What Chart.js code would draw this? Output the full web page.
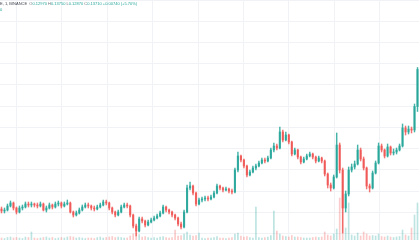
<!DOCTYPE html>
<html>
<head>
<meta charset="utf-8">
<script src="https://cdn.jsdelivr.net/npm/chart.js@4/dist/chart.umd.min.js"></script>
<style>
html,body{margin:0;padding:0;background:#fff;}
#wrap{position:relative;width:419px;height:240px;overflow:hidden;}
#hdr{position:absolute;left:0;top:1px;font-family:"Liberation Sans",Arial,sans-serif;font-size:4px;line-height:5.5px;white-space:nowrap;color:#6a6d78;}
#hdr .v{color:#26a69a;}
#hdr .s{color:#434651;}
</style>
</head>
<body>
<div id="wrap">
<canvas id="c" width="419" height="240"></canvas>
<div id="hdr"><span class="s">E, 1, BINANCE</span>&nbsp; O<span class="v">0.12970</span> H<span class="v">0.13750</span> L<span class="v">0.12870</span> C<span class="v">0.13710</span> <span class="v">+0.00740 (+5.70%)</span><br><span class="v">0</span></div>
</div>
<script>
const opens = [0.1092,0.1088,0.1090,0.1098,0.1104,0.1094,0.1086,0.1094,0.1096,0.1102,
0.1100,0.1102,0.1100,0.1098,0.1102,0.1090,0.1094,0.1100,0.1096,0.1102,
0.1104,0.1098,0.1102,0.1104,0.1086,0.1080,0.1084,0.1090,0.1096,0.1100,
0.1098,0.1094,0.1092,0.1096,0.1100,0.1106,0.1104,0.1094,0.1086,0.1080,
0.1086,0.1096,0.1100,0.1098,0.1080,0.1058,0.1048,0.1072,0.1068,0.1060,
0.1066,0.1070,0.1074,0.1078,0.1084,0.1096,0.1090,0.1086,0.1080,0.1074,
0.1062,0.1056,0.1086,0.1134,0.1138,0.1124,0.1102,0.1110,0.1112,0.1114,
0.1112,0.1116,0.1124,0.1138,0.1134,0.1130,0.1132,0.1128,0.1126,0.1170,
0.1198,0.1190,0.1178,0.1160,0.1166,0.1174,0.1178,0.1184,0.1190,0.1188,
0.1194,0.1210,0.1218,0.1214,0.1246,0.1230,0.1240,0.1226,0.1202,0.1210,
0.1196,0.1186,0.1192,0.1198,0.1202,0.1196,0.1188,0.1194,0.1188,0.1162,
0.1140,0.1134,0.1156,0.1220,0.1170,0.1094,0.1122,0.1170,0.1176,0.1182,
0.1210,0.1192,0.1174,0.1138,0.1134,0.1164,0.1184,0.1218,0.1210,0.1198,
0.1216,0.1204,0.1206,0.1210,0.1218,0.1254,0.1246,0.1252,0.1250,0.1297];
const closes = [0.1088,0.1090,0.1098,0.1104,0.1094,0.1086,0.1094,0.1096,0.1102,0.1100,
0.1102,0.1100,0.1098,0.1102,0.1090,0.1094,0.1100,0.1096,0.1102,0.1104,
0.1098,0.1102,0.1104,0.1086,0.1080,0.1084,0.1090,0.1096,0.1100,0.1098,
0.1094,0.1092,0.1096,0.1100,0.1106,0.1104,0.1094,0.1086,0.1080,0.1086,
0.1096,0.1100,0.1098,0.1080,0.1058,0.1048,0.1072,0.1068,0.1060,0.1066,
0.1070,0.1074,0.1078,0.1084,0.1096,0.1090,0.1086,0.1080,0.1074,0.1062,
0.1056,0.1086,0.1134,0.1138,0.1124,0.1102,0.1110,0.1112,0.1114,0.1112,
0.1116,0.1124,0.1138,0.1134,0.1130,0.1132,0.1128,0.1126,0.1170,0.1198,
0.1190,0.1178,0.1160,0.1166,0.1174,0.1178,0.1184,0.1190,0.1188,0.1194,
0.1210,0.1218,0.1214,0.1246,0.1230,0.1240,0.1226,0.1202,0.1210,0.1196,
0.1186,0.1192,0.1198,0.1202,0.1196,0.1188,0.1194,0.1188,0.1162,0.1140,
0.1134,0.1156,0.1220,0.1170,0.1094,0.1122,0.1170,0.1176,0.1182,0.1210,
0.1192,0.1174,0.1138,0.1134,0.1164,0.1184,0.1218,0.1210,0.1198,0.1216,
0.1204,0.1206,0.1210,0.1218,0.1254,0.1246,0.1252,0.1250,0.1297,0.1371];
const highs = [0.1096,0.1094,0.1102,0.1108,0.1106,0.1096,0.1098,0.1100,0.1106,0.1106,
0.1106,0.1104,0.1104,0.1106,0.1104,0.1098,0.1104,0.1102,0.1106,0.1108,
0.1106,0.1106,0.1110,0.1106,0.1088,0.1088,0.1094,0.1100,0.1104,0.1104,
0.1100,0.1098,0.1100,0.1104,0.1110,0.1110,0.1106,0.1096,0.1088,0.1090,
0.1100,0.1104,0.1104,0.1100,0.1082,0.1062,0.1076,0.1076,0.1070,0.1070,
0.1074,0.1078,0.1082,0.1088,0.1100,0.1098,0.1092,0.1088,0.1082,0.1076,
0.1066,0.1090,0.1140,0.1146,0.1140,0.1126,0.1114,0.1116,0.1118,0.1118,
0.1120,0.1128,0.1142,0.1140,0.1136,0.1136,0.1134,0.1132,0.1174,0.1206,
0.1200,0.1192,0.1180,0.1170,0.1178,0.1182,0.1188,0.1194,0.1194,0.1198,
0.1214,0.1224,0.1222,0.1256,0.1250,0.1246,0.1242,0.1228,0.1214,0.1212,
0.1198,0.1196,0.1202,0.1206,0.1204,0.1198,0.1198,0.1196,0.1190,0.1164,
0.1144,0.1160,0.1244,0.1224,0.1174,0.1128,0.1176,0.1182,0.1188,0.1220,
0.1214,0.1196,0.1176,0.1142,0.1168,0.1188,0.1224,0.1222,0.1212,0.1222,
0.1218,0.1212,0.1214,0.1222,0.1262,0.1258,0.1258,0.1256,0.1302,0.1375];
const lows = [0.1084,0.1084,0.1088,0.1096,0.1090,0.1082,0.1084,0.1090,0.1094,0.1096,
0.1096,0.1096,0.1094,0.1096,0.1088,0.1086,0.1092,0.1092,0.1094,0.1098,
0.1094,0.1096,0.1100,0.1084,0.1076,0.1078,0.1082,0.1088,0.1094,0.1094,
0.1090,0.1088,0.1090,0.1094,0.1098,0.1100,0.1090,0.1082,0.1076,0.1078,
0.1084,0.1094,0.1094,0.1076,0.1054,0.1038,0.1046,0.1064,0.1056,0.1058,
0.1064,0.1068,0.1072,0.1076,0.1082,0.1086,0.1082,0.1076,0.1070,0.1058,
0.1052,0.1054,0.1084,0.1130,0.1120,0.1098,0.1100,0.1106,0.1108,0.1108,
0.1110,0.1114,0.1122,0.1130,0.1126,0.1128,0.1124,0.1122,0.1124,0.1166,
0.1186,0.1174,0.1156,0.1158,0.1164,0.1170,0.1176,0.1182,0.1184,0.1186,
0.1192,0.1206,0.1210,0.1212,0.1226,0.1228,0.1222,0.1198,0.1200,0.1192,
0.1182,0.1184,0.1190,0.1196,0.1192,0.1184,0.1186,0.1184,0.1158,0.1134,
0.1128,0.1132,0.1154,0.1164,0.1044,0.1086,0.1118,0.1166,0.1172,0.1180,
0.1188,0.1170,0.1132,0.1126,0.1132,0.1162,0.1182,0.1206,0.1194,0.1196,
0.1200,0.1200,0.1202,0.1208,0.1216,0.1240,0.1242,0.1244,0.1246,0.1287];
const volumes = [20,15,25,30,20,25,20,15,30,25,
80,20,15,20,25,30,20,25,15,20,
25,20,30,35,30,20,25,20,15,20,
20,15,25,30,20,25,30,35,25,30,
25,20,20,40,60,70,55,30,35,25,
20,25,20,30,35,25,20,25,100,40,
45,60,80,50,40,45,70,20,15,20,
20,25,35,20,20,15,20,25,60,70,
40,30,35,25,20,330,25,20,25,30,
45,290,90,60,40,35,30,45,30,30,
25,20,20,20,25,30,25,30,80,50,
40,60,110,420,450,120,370,50,40,70,
40,80,60,40,45,40,60,35,30,40,
30,25,30,35,100,50,40,120,250,370];
const categories = closes.map((_, i) => String(i + 1));
const gridPrices = [0.1510,0.14675,0.1425,0.13825,0.1340,0.12975,0.1255,0.12125,0.1170,0.11275,0.1085,0.10425];
const gridCandles = [4.5,21.83,39.17,56.5,73.83,91.17,108.5,125.83];

const isUp = closes.map((c, i) => c >= opens[i]);
const col = isUp.map(u => u ? 'rgba(38,166,154,0.85)' : 'rgba(239,83,80,0.8)');
const volCol = isUp.map(u => u ? 'rgba(38,166,154,0.3)' : 'rgba(239,83,80,0.3)');

new Chart(document.getElementById('c'), {
  type: 'bar',
  data: {
    labels: categories,
    datasets: [
      { label: 'body', data: opens.map((o, i) => [o, closes[i]]), backgroundColor: col, barThickness: 1.5, minBarLength: 1, grouped: false, order: 1, yAxisID: 'y', xAxisID: 'x' },
      { label: 'wick', data: lows.map((l, i) => [l, highs[i]]), backgroundColor: col, barThickness: 0.8, grouped: false, order: 2, yAxisID: 'y', xAxisID: 'x' },
      { label: 'volume', data: volumes, backgroundColor: volCol, barThickness: 1, grouped: false, order: 3, yAxisID: 'v', xAxisID: 'x' }
    ]
  },
  options: {
    responsive: false,
    animation: false,
    devicePixelRatio: 1,
    layout: { padding: 0 },
    plugins: { legend: { display: false }, tooltip: { enabled: false } },
    scales: {
      x: { display: false },
      xg: {
        type: 'linear', position: 'bottom', min: -0.5, max: 139.5,
        afterBuildTicks: s => { s.ticks = gridCandles.map(v => ({ value: v })); },
        ticks: { display: false },
        grid: { color: '#f0f2f5', drawTicks: false, lineWidth: 1 },
        border: { display: false },
        afterFit: s => { s.height = 0; }
      },
      y: {
        type: 'linear', position: 'right', min: 0.1030, max: 0.1510,
        afterBuildTicks: s => { s.ticks = gridPrices.map(v => ({ value: v })); },
        ticks: { display: false },
        grid: { color: '#f0f2f5', drawTicks: false, lineWidth: 1 },
        border: { display: false },
        afterFit: s => { s.width = 0; }
      },
      v: { display: false, min: 0, max: 2400 }
    }
  }
});
</script>
</body>
</html>
